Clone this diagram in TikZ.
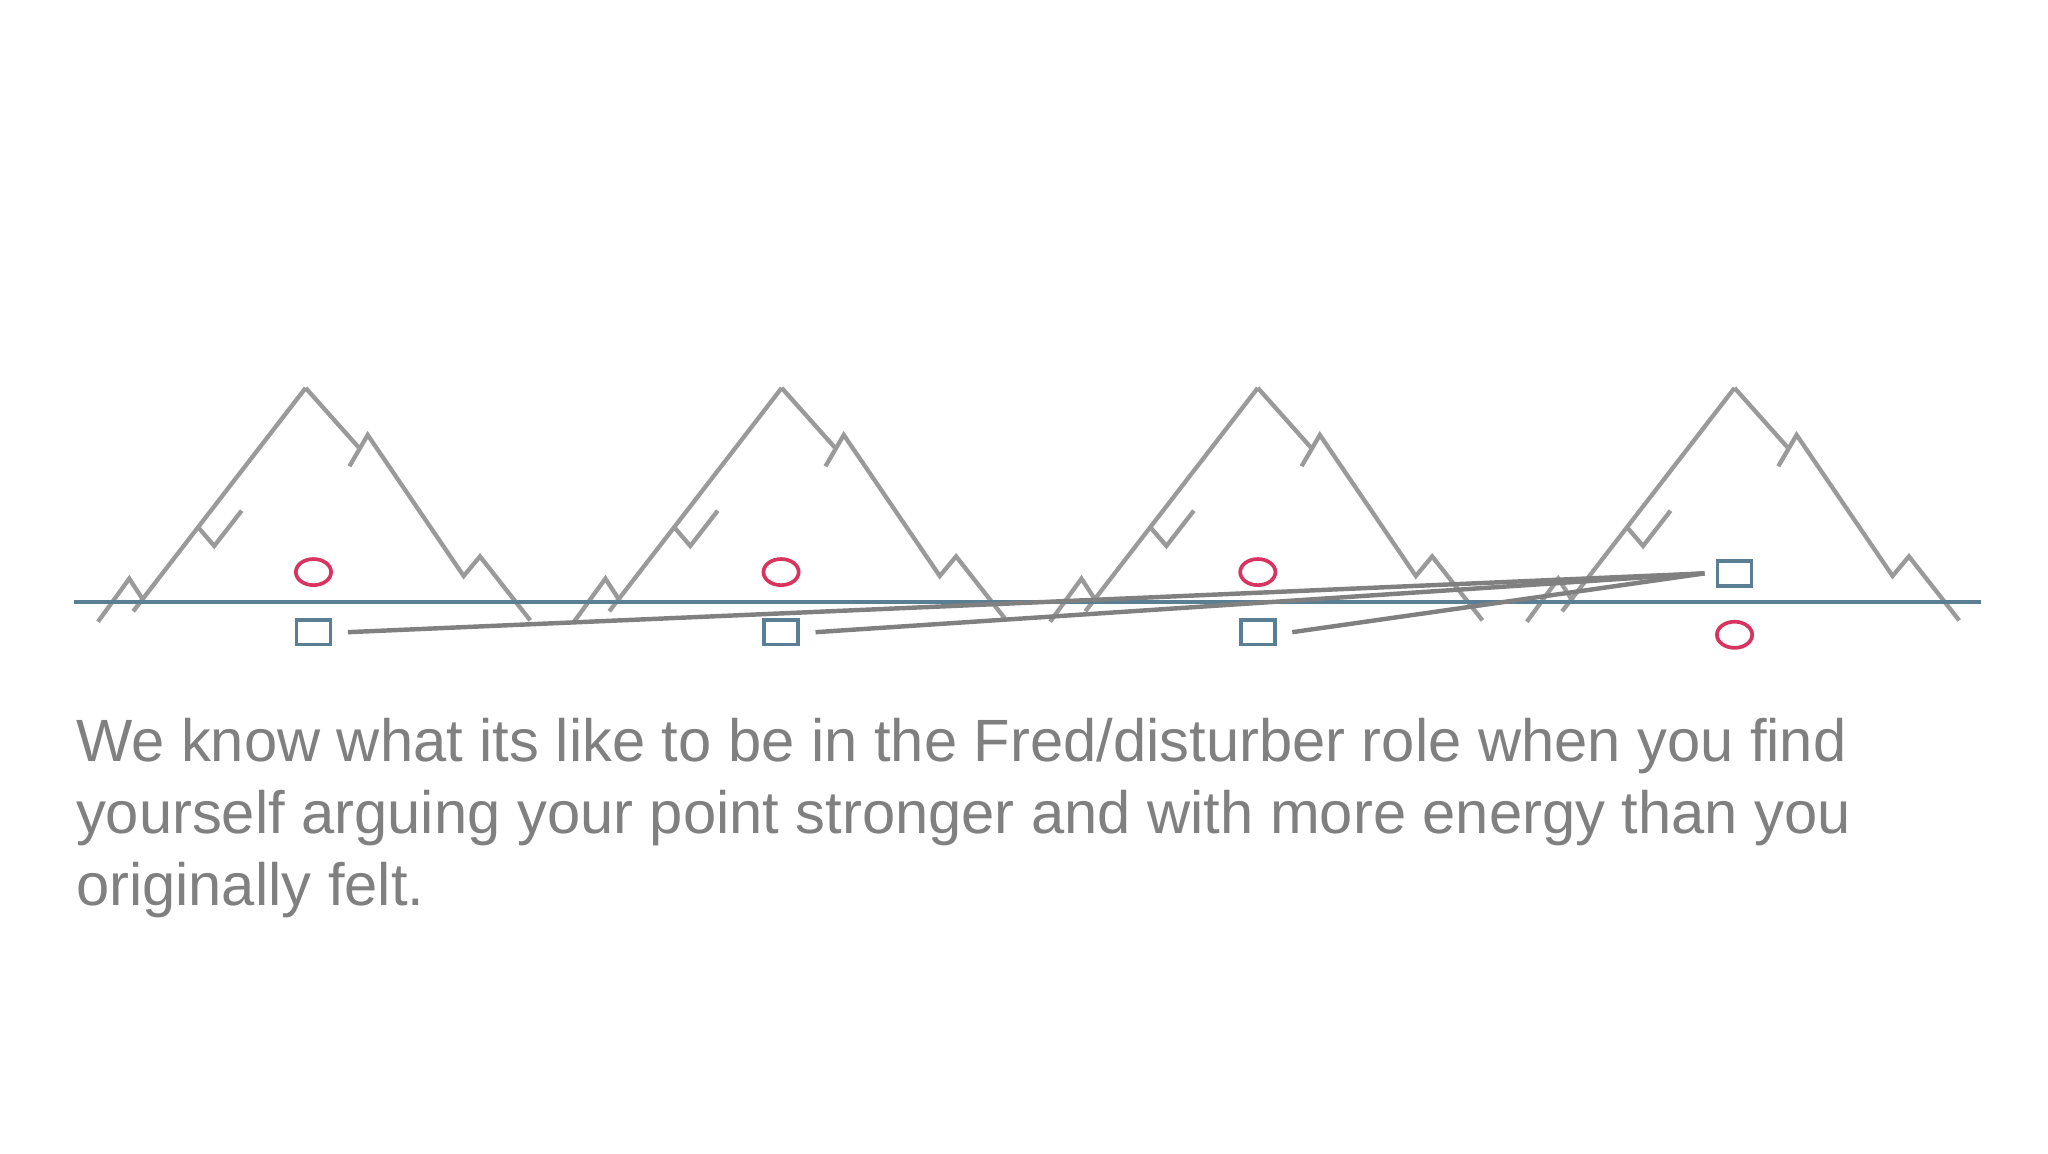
\documentclass[tikz,border=0pt]{standalone}
\usepackage{fontspec}
\setmainfont{Liberation Sans}
\usetikzlibrary{shapes.geometric}
\begin{document}
\begin{tikzpicture}[x=1pt,y=-1pt,
  mtn/.style={draw=mgray,line width=3.3pt,line join=miter},
  circ/.style={draw=cred,line width=2.8pt,ellipse,minimum width=27pt,minimum height=20pt,inner sep=0pt},
  sq/.style={draw=sblue,line width=2.8pt,rectangle,minimum width=26pt,minimum height=19pt,inner sep=0pt},
  link/.style={draw=lgray,line width=3.4pt}]
\definecolor{mgray}{HTML}{9A9A9A}
\definecolor{lgray}{HTML}{808080}
\definecolor{cred}{HTML}{D9345F}
\definecolor{sblue}{HTML}{5A7F94}
\useasboundingbox (0,0) rectangle (1568,883);
\fill[white] (0,0) rectangle (1568,883);
\foreach \px in {234,598.5,963,1328}{
  \begin{scope}[shift={(\px,297)}]
    \draw[mtn] (0,0) -- (-132,171);
    \draw[mtn] (-159,179) -- (-135,146) -- (-124,163);
    \draw[mtn] (-82,107) -- (-70,121) -- (-49,94);
    \draw[mtn] (0,0) -- (41,46);
    \draw[mtn] (33.5,60) -- (47.5,36) -- (121,144) -- (133.5,129) -- (172,178);
  \end{scope}
}
\coordinate (bl) at (57,461);
\coordinate (br) at (1517,461);
\draw[sblue,line width=3.6pt] (bl) -- (br);
\node[circ] (c1) at (240,438) {};
\node[circ] (c2) at (598,438) {};
\node[circ] (c3) at (963,438) {};
\node[circ] (c4) at (1328,486) {};
\node[sq] (s1) at (240,484) {};
\node[sq] (s2) at (598,484) {};
\node[sq] (s3) at (963,484) {};
\node[sq] (s4) at (1328,439) {};
\coordinate (t) at (1305,439);
\draw[link] ([xshift=12pt]s1.east) -- (t);
\draw[link] ([xshift=12pt]s2.east) -- (t);
\draw[link] ([xshift=12pt]s3.east) -- (t);
\node[anchor=north west,align=left,inner sep=0pt,text=lgray,font=\fontsize{45.7}{55}\selectfont] (txt) at (58,550)
{We know what its like to be in the Fred/disturber role when you find\\
yourself arguing your point stronger and with more energy than you\\
originally felt.};
\end{tikzpicture}
\end{document}
